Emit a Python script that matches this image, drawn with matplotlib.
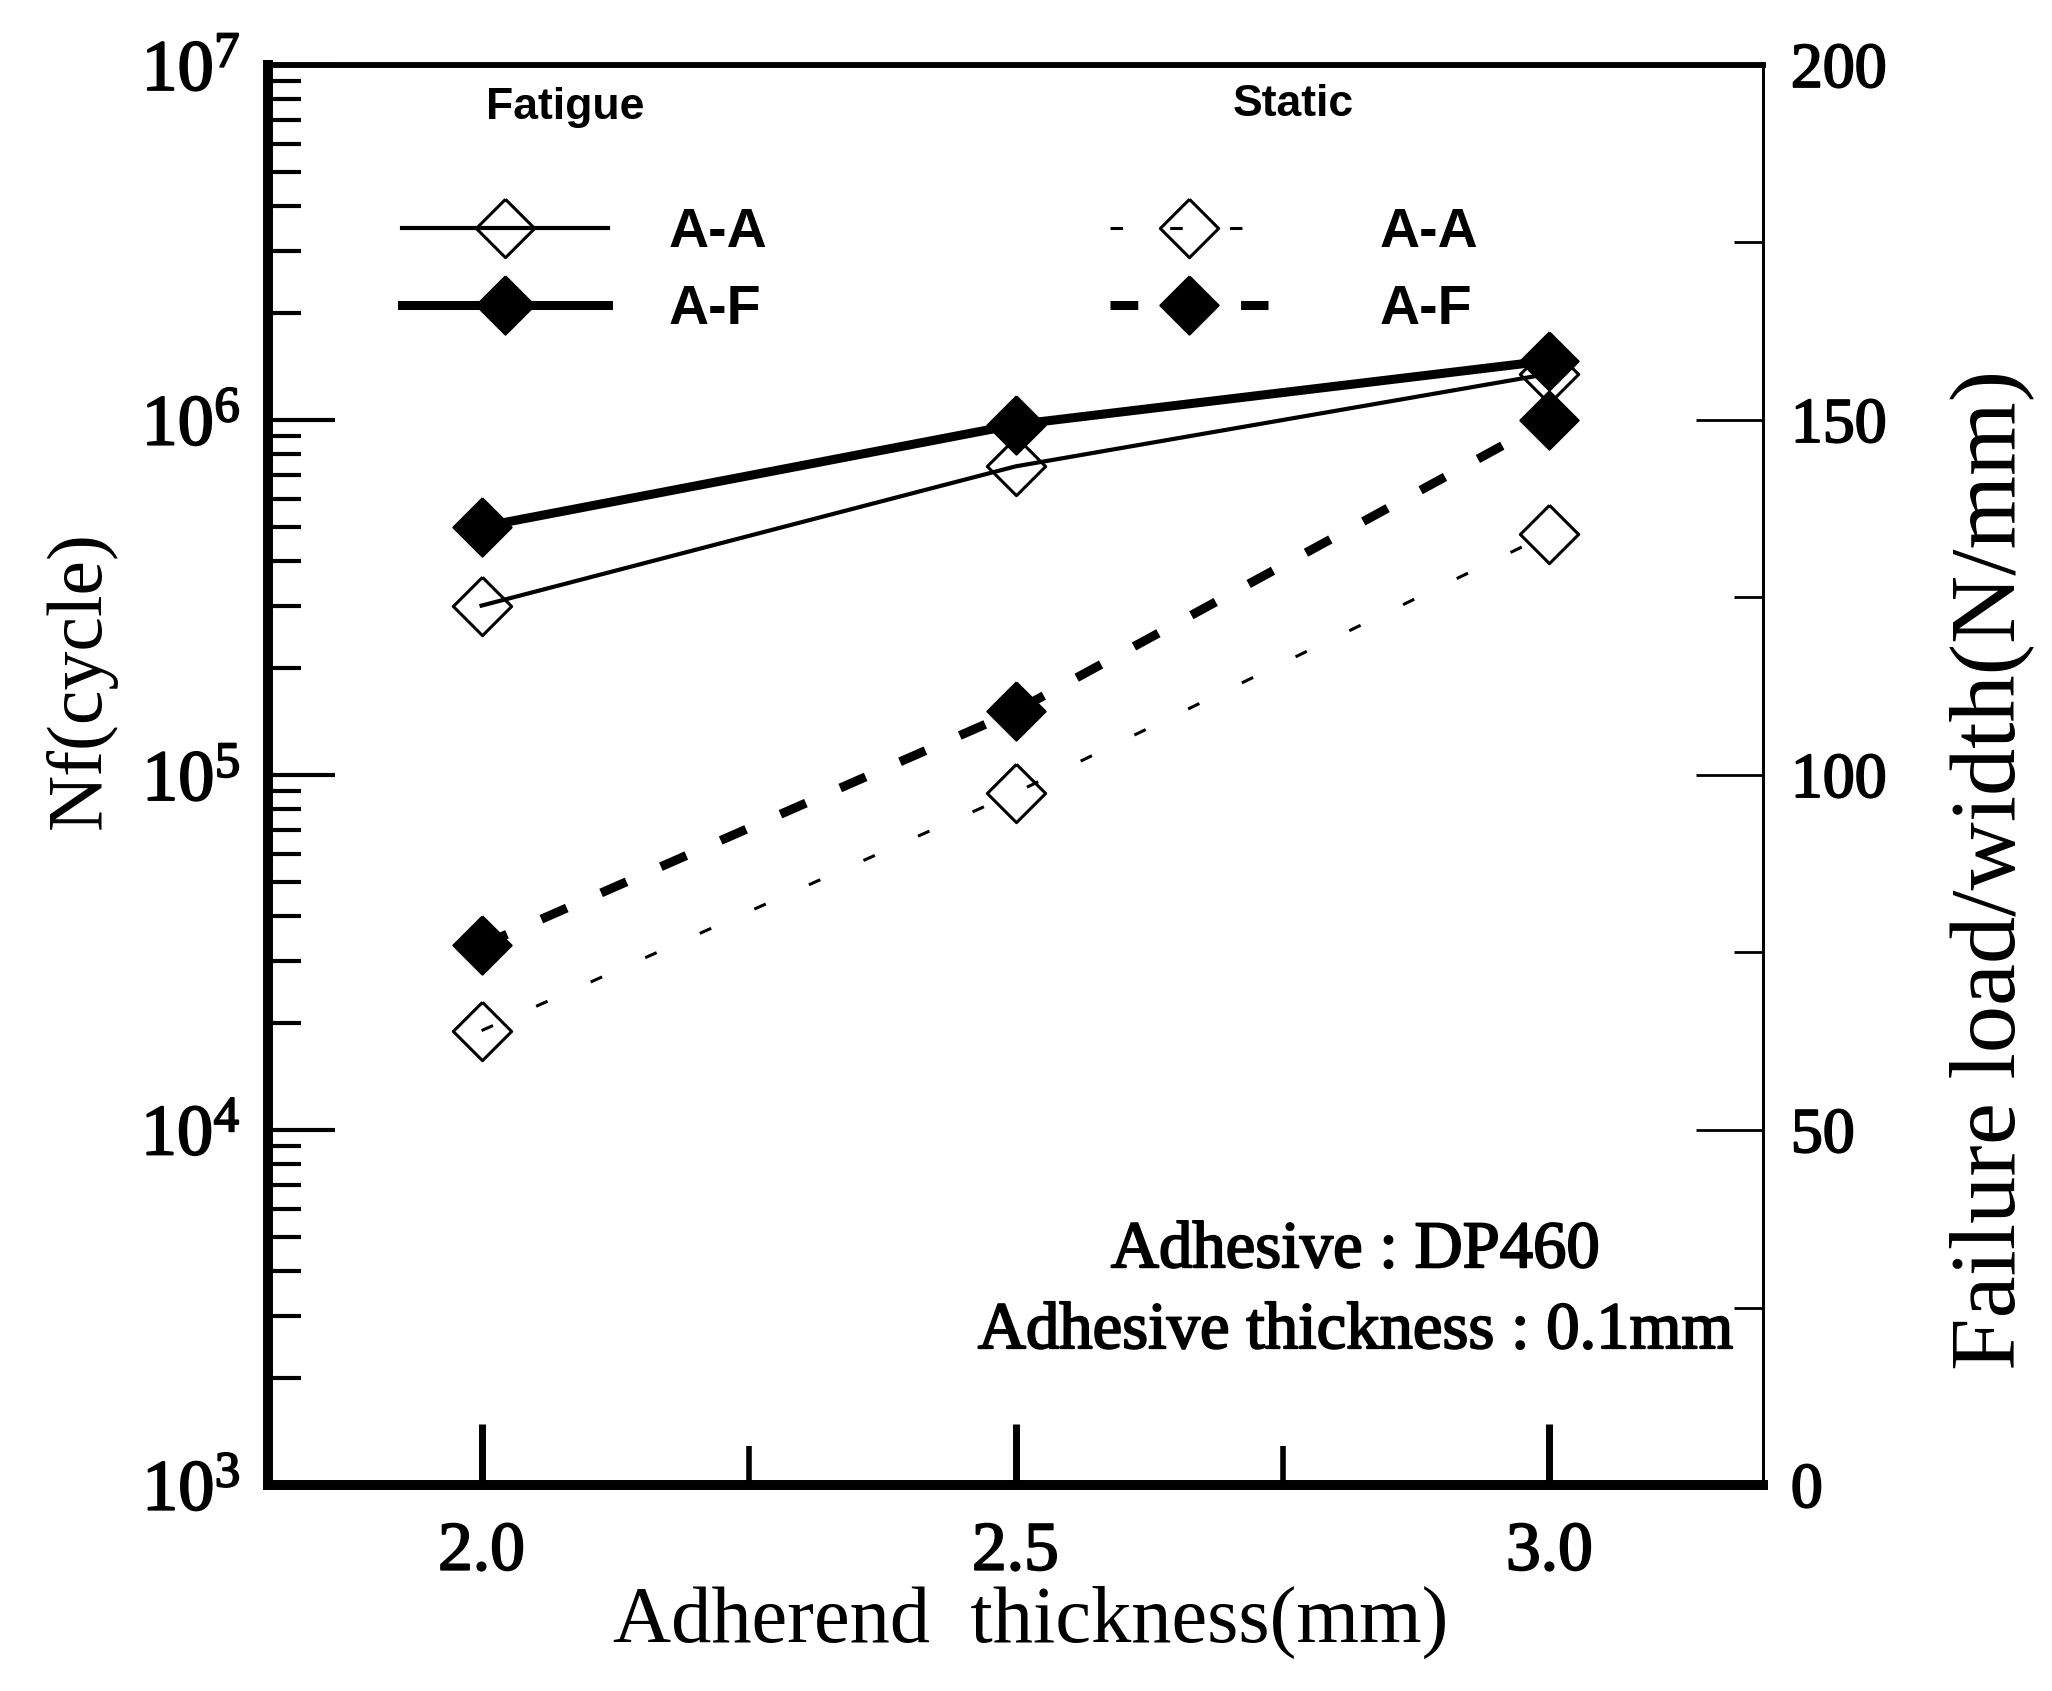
import matplotlib
matplotlib.use("Agg")
import matplotlib.pyplot as plt
import matplotlib.patheffects as pe
from matplotlib.ticker import FixedLocator, MultipleLocator, NullFormatter, LogLocator, LogFormatterMathtext

# ---------------- data ----------------
thickness = [2.0, 2.5, 3.0]                 # adherend thickness (mm)
fatigue_AA = [3.0e5, 7.4e5, 1.35e6]          # Nf (cycle)
fatigue_AF = [5.0e5, 9.7e5, 1.47e6]          # Nf (cycle)
static_AA = [64.0, 97.5, 134.0]              # failure load / width (N/mm)
static_AF = [76.0, 109.0, 150.0]             # failure load / width (N/mm)
x_ticks = [2.0, 2.5, 3.0]
x_tick_labels = ["2.0", "2.5", "3.0"]
x_minor = [2.25, 2.75]
right_ticks = [0, 50, 100, 150, 200]

serif = ['Liberation Serif', 'DejaVu Serif']
sans = ['Liberation Sans', 'DejaVu Sans']

plt.rcParams['lines.scale_dashes'] = False
plt.rcParams['font.family'] = serif
plt.rcParams['mathtext.fontset'] = 'custom'
plt.rcParams['mathtext.rm'] = 'Liberation Serif'
plt.rcParams['mathtext.it'] = 'Liberation Serif:italic'
plt.rcParams['mathtext.bf'] = 'Liberation Serif:bold'

heavy = [pe.withStroke(linewidth=1.4, foreground='black')]

fig = plt.figure(figsize=(20.52, 16.91), dpi=100)
ax = fig.add_axes([0.1306, 0.1218, 0.7286, 0.8398])
ax2 = ax.twinx()

diamond = [(0, 1), (1, 0), (0, -1), (-1, 0), (0, 1)]
ms = 42

# Fatigue (left, log axis)
l_fAA, = ax.plot(thickness, fatigue_AA, color='black', lw=3.0, marker=diamond, ms=ms,
                 mfc='none', mec='black', mew=2.2, label='A-A')
l_fAF, = ax.plot(thickness, fatigue_AF, color='black', lw=6.5, marker=diamond, ms=ms,
                 mfc='black', mec='black', mew=1.5, label='A-F')

# Static (right, linear axis)
l_sAA, = ax2.plot(thickness, static_AA, color='black', lw=2.2, dashes=(9, 34), marker=diamond,
                  ms=ms, mfc='none', mec='black', mew=2.2, label='A-A')
l_sAF, = ax2.plot(thickness, static_AF, color='black', lw=6.5, dashes=(20, 27), marker=diamond,
                  ms=ms, mfc='black', mec='black', mew=1.5, label='A-F')

# ---------------- axes ----------------
ax.set_xlim(1.8, 3.2)
ax.set_yscale('log')
ax.set_ylim(1e3, 1e7)
ax2.set_ylim(0, 200)

ax.set_xticks(x_ticks)
ax.set_xticklabels(x_tick_labels, fontfamily=serif, fontsize=50)
ax.xaxis.set_minor_locator(FixedLocator(x_minor))
ax.tick_params(axis='x', which='major', direction='in', length=44, width=5, pad=26, top=False)
ax.tick_params(axis='x', which='minor', direction='in', length=28, width=4, top=False)

ax.yaxis.set_major_locator(LogLocator(base=10, numticks=10))
ax.yaxis.set_minor_locator(LogLocator(base=10, subs=range(2, 10), numticks=100))
ax.yaxis.set_major_formatter(LogFormatterMathtext())
ax.yaxis.set_minor_formatter(NullFormatter())
ax.tick_params(axis='y', which='major', direction='in', length=48, width=3, pad=20, labelsize=52, right=False)
ax.tick_params(axis='y', which='minor', direction='in', length=24, width=3, right=False)

ax2.set_yticks(right_ticks)
ax2.set_yticklabels([str(v) for v in right_ticks], fontfamily=serif, fontsize=46)
ax2.yaxis.set_minor_locator(MultipleLocator(25))
ax2.tick_params(axis='y', which='major', direction='in', length=48, width=2, pad=20)
ax2.tick_params(axis='y', which='minor', direction='in', length=21, width=2)

for lab in ax.get_xticklabels() + ax.get_yticklabels() + ax2.get_yticklabels():
    lab.set_path_effects(heavy)

for a in (ax, ax2):
    a.spines['left'].set_linewidth(7)
    a.spines['bottom'].set_linewidth(7)
    a.spines['top'].set_linewidth(4)
    a.spines['right'].set_linewidth(2)

ax.set_xlabel('Adherend  thickness(mm)', fontfamily=serif, fontsize=58, va='center')
ax.xaxis.set_label_coords(0.51, -0.097)
ax.set_ylabel('Nf(cycle)', fontfamily=serif, fontsize=56, va='center')
ax.yaxis.set_label_coords(-0.125, 0.567)
ax2.set_ylabel('Failure load/width(N/mm)', fontfamily=serif, fontsize=68, va='center')
ax2.yaxis.set_label_coords(1.153, 0.433)

# ---------------- legends ----------------
leg_kw = dict(loc='upper left', frameon=False, borderpad=0, borderaxespad=0, labelspacing=0.45,
              prop={'family': sans, 'weight': 'bold', 'size': 40})
leg1 = ax2.legend(handles=[l_fAA, l_fAF], bbox_to_anchor=(0.0896, 0.900),
                  handlelength=3.7, handletextpad=1.1, **leg_kw)
ax2.add_artist(leg1)
leg2 = ax2.legend(handles=[l_sAA, l_sAF], bbox_to_anchor=(0.563, 0.900),
                  handlelength=2.85, handletextpad=2.0, **leg_kw)

ax2.text(0.199, 0.970, 'Fatigue', transform=ax2.transAxes, ha='center', va='center',
         fontfamily=sans, fontweight='bold', fontsize=32)
ax2.text(0.686, 0.972, 'Static', transform=ax2.transAxes, ha='center', va='center',
         fontfamily=sans, fontweight='bold', fontsize=32)

ax2.text(0.727, 0.165, 'Adhesive : DP460', transform=ax2.transAxes, ha='center', va='center',
         fontfamily=serif, fontsize=48, path_effects=heavy)
ax2.text(0.727, 0.108, 'Adhesive thickness : 0.1mm', transform=ax2.transAxes, ha='center',
         va='center', fontfamily=serif, fontsize=48, path_effects=heavy)

fig.savefig('out.png', dpi=100)
